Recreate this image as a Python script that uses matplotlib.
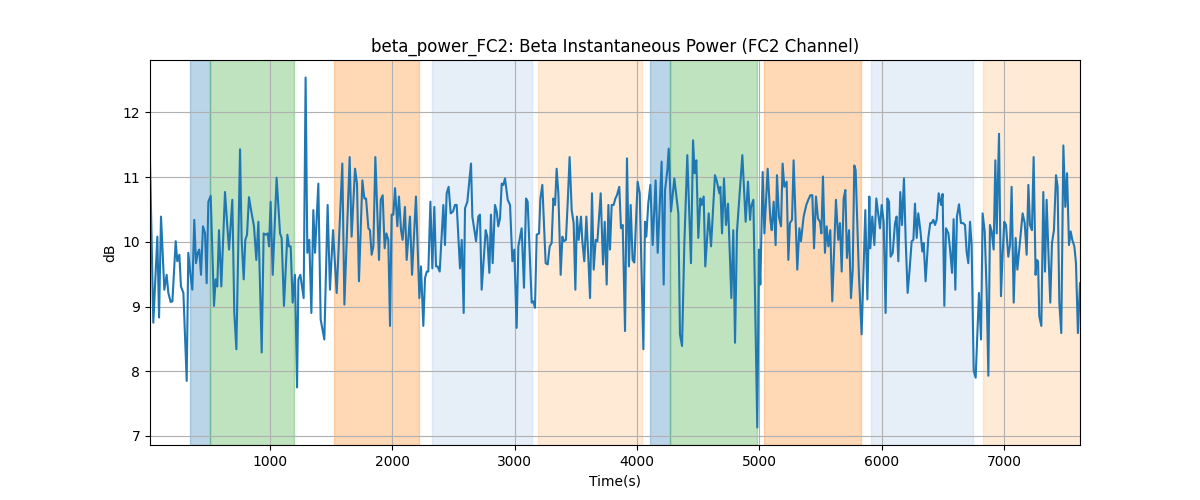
import numpy as np
import matplotlib
matplotlib.use("Agg")
import matplotlib.pyplot as plt


# time (s) and beta power (dB)
time_s = [
    19, 46, 79, 93, 109, 136, 155, 169, 188, 202, 229, 242, 259, 272, 292, 319, 332, 351, 365, 381,
    395, 409, 422, 436, 452, 469, 482, 496, 515, 542, 556, 569, 583, 602, 632, 651, 665, 692, 708, 725,
    755, 768, 785, 798, 812, 828, 845, 869, 888, 905, 932, 948, 965, 981, 992,
    1005, 1022, 1054, 1082, 1095, 1114, 1142, 1155, 1169, 1185, 1204, 1221, 1232, 1248, 1275, 1291, 1305, 1321, 1338, 1354,
    1368, 1395, 1414, 1444, 1471, 1490, 1515, 1545, 1591, 1608, 1651, 1667, 1695, 1711, 1727, 1755, 1771, 1785, 1804, 1817,
    1831, 1845, 1861, 1891, 1905, 1921, 1937, 1951, 1967,
    1981, 1994, 2008, 2022, 2041, 2054, 2071, 2084, 2103, 2117, 2144, 2161, 2193, 2221, 2234, 2253, 2267, 2281, 2294, 2311,
    2327, 2343, 2357, 2370, 2387, 2417, 2430, 2444, 2460, 2477, 2496, 2512, 2526, 2553, 2567, 2583, 2594, 2613, 2643, 2654,
    2684, 2703, 2716, 2730, 2763, 2776, 2793, 2806, 2820, 2839, 2853, 2866, 2880, 2894, 2907, 2921, 2943, 2962,
    2981, 2997, 3016, 3030, 3057, 3076, 3093, 3106, 3139, 3152, 3166, 3180, 3199, 3210, 3226, 3253, 3270, 3286, 3302, 3316,
    3330, 3343, 3357, 3376, 3390, 3403, 3419, 3433, 3449, 3466, 3482, 3496, 3509, 3523, 3542, 3553, 3569, 3586, 3602, 3616,
    3632, 3646, 3662, 3676, 3703, 3722, 3736, 3752, 3766, 3779, 3793, 3809, 3823, 3836, 3855, 3869, 3883, 3902, 3918, 3934,
    3948, 3964, 3978, 4005, 4022, 4052, 4065, 4076, 4092, 4109, 4128, 4152, 4169, 4201, 4218, 4229, 4248, 4259, 4278, 4305,
    4338, 4351, 4368, 4387, 4411, 4441, 4458, 4471, 4485, 4501, 4518, 4528, 4545, 4558, 4586, 4605, 4637, 4651, 4673, 4681,
    4695, 4711, 4727, 4744, 4771, 4787, 4801, 4817, 4861, 4888, 4907, 4924,
    4932, 4951, 4983, 4997, 5008, 5027, 5041, 5068, 5090, 5101, 5117, 5133, 5144, 5160, 5177, 5190, 5204, 5223, 5237, 5250,
    5267, 5280, 5310, 5327, 5340, 5362, 5384, 5400, 5417, 5433, 5447, 5463, 5479, 5496, 5507, 5520, 5536, 5550, 5564, 5580,
    5596, 5626, 5645, 5659, 5673, 5689, 5703, 5716, 5733, 5749, 5763, 5776, 5787, 5814, 5836, 5866, 5883, 5899,
    5907, 5923, 5940, 5956, 5972, 5986, 6000, 6016, 6032, 6046, 6060, 6073, 6090, 6109, 6122, 6136, 6152, 6166, 6182, 6196,
    6212, 6229, 6245, 6259, 6272, 6286, 6299, 6316, 6332, 6343, 6359, 6381, 6397, 6408, 6422, 6436, 6449, 6466, 6485, 6498,
    6512, 6526, 6545, 6558, 6575, 6588, 6602, 6615, 6632, 6648, 6665, 6681, 6694, 6708, 6722, 6735, 6752, 6768, 6782, 6795,
    6812, 6825, 6842, 6858, 6872, 6885,
    6899, 6915, 6929, 6940, 6959, 6975, 6989, 7002, 7016, 7035, 7049, 7062, 7079, 7095, 7109, 7122, 7136, 7152, 7169, 7185,
    7199, 7212, 7228, 7242, 7258, 7267, 7278, 7288, 7305, 7321, 7335, 7348, 7365, 7378, 7392, 7408, 7425, 7438, 7452, 7468,
    7485, 7501, 7515, 7531, 7545, 7558, 7575, 7588, 7604, 7621,
]
power_db = [
    11.26, 8.75, 10.08, 8.83, 10.39, 9.26, 9.49, 9.21, 9.07, 9.08, 10.01, 9.70, 9.80, 9.31, 9.21, 7.85, 9.83, 9.47, 9.26, 10.34,
    9.67, 9.83, 9.88, 9.49, 10.24, 10.13, 9.36, 10.62, 10.71, 9.01, 9.42, 9.31, 10.18, 9.31, 10.77, 10.24, 9.88, 10.65, 8.90, 8.34,
    11.43, 10.03, 9.42, 10.03, 10.11, 10.69, 10.49, 10.24, 9.72, 10.31, 8.29, 10.13, 10.11, 10.13, 9.93,
    10.62, 9.49, 10.99, 10.13, 10.06, 9.01, 10.11, 9.93, 9.93, 9.06, 9.49, 7.75, 9.42, 9.49, 9.13, 12.54, 9.83, 10.03, 8.90, 10.49,
    9.83, 10.90, 8.80, 8.49, 10.57, 9.26, 10.18, 9.21, 11.21, 9.03, 11.31, 10.08, 11.13, 10.90, 9.39, 10.95, 10.67, 10.67, 10.21, 10.18,
    9.80, 9.93, 11.31, 9.72, 10.65, 10.72, 9.90, 10.13, 10.03,
    8.70, 10.42, 10.42, 10.83, 10.24, 10.70, 10.18, 10.03, 10.54, 9.72, 10.39, 9.49, 10.70, 9.13, 9.62, 8.70, 9.44, 9.54, 9.54, 10.62,
    9.59, 10.54, 9.62, 9.62, 9.54, 10.57, 9.95, 10.75, 10.85, 10.44, 10.47, 10.57, 10.57, 9.59, 10.03, 8.90, 10.52, 10.62, 11.21, 10.39,
    10.01, 10.39, 10.42, 9.26, 10.18, 10.08, 9.52, 10.42, 9.67, 10.57, 10.47, 10.24, 10.36, 10.90, 10.88, 10.98, 10.65, 10.57,
    9.70, 9.88, 8.67, 9.93, 10.21, 9.29, 10.67, 10.62, 9.06, 9.08, 8.98, 10.11, 10.13, 10.67, 10.88, 9.67, 9.65, 9.93, 9.98, 10.67,
    10.57, 11.13, 10.75, 9.49, 10.08, 10.01, 10.03, 10.59, 11.31, 10.49, 10.29, 9.26, 10.39, 10.03, 10.39, 10.01, 9.70, 10.39, 9.75, 9.13,
    10.75, 9.57, 10.03, 10.01, 10.75, 9.65, 10.31, 9.34, 10.57, 9.88, 10.57, 10.57, 10.67, 10.72, 10.85, 10.21, 10.26, 8.62, 11.29, 9.62,
    10.57, 9.72, 9.68, 10.93, 10.75, 8.34, 10.31, 10.08, 10.59, 10.88, 9.95, 10.95, 9.83, 11.24, 9.34, 10.80, 11.11, 11.44, 10.47, 10.98,
    10.44, 8.57, 8.39, 9.98, 11.34, 9.67, 11.57, 11.06, 11.26, 10.06, 10.67, 10.57, 10.70, 9.62, 10.44, 9.93, 11.03, 10.95, 10.75, 10.85,
    10.13, 10.98, 10.26, 10.59, 9.13, 10.18, 8.44, 10.16, 11.34, 10.31, 10.93, 10.34,
    10.54, 10.65, 7.13, 9.88, 9.34, 11.08, 10.13, 11.13, 10.34, 10.18, 10.62, 9.95, 11.03, 10.39, 10.24, 11.21, 10.85, 10.93, 9.72, 10.29,
    10.34, 11.26, 9.57, 10.21, 10.01, 10.39, 10.57, 10.65, 10.72, 10.72, 9.90, 10.70, 10.36, 10.31, 10.13, 11.01, 9.83, 10.24, 9.93, 10.18,
    9.08, 10.65, 10.03, 10.29, 9.54, 10.67, 10.80, 9.75, 10.18, 9.13, 9.57, 11.18, 11.11, 9.47, 8.57, 10.49, 9.11, 10.70,
    9.90, 10.39, 9.95, 10.67, 10.42, 10.21, 10.57, 10.31, 8.90, 10.67, 10.62, 9.77, 9.83, 10.29, 10.39, 9.70, 10.77, 10.26, 10.98, 10.03,
    9.21, 9.59, 10.01, 10.03, 10.59, 10.06, 10.44, 10.18, 9.85, 9.98, 9.39, 10.06, 10.29, 10.29, 10.34, 10.26, 10.34, 10.75, 10.57, 10.74,
    9.01, 10.21, 10.13, 9.90, 9.52, 10.35, 9.26, 10.39, 10.58, 10.29, 10.29, 10.26, 9.85, 9.67, 10.31, 9.95, 8.01, 7.90, 8.59, 9.21,
    8.49, 10.44, 10.16, 9.24, 7.93, 10.26,
    10.16, 9.88, 11.26, 10.13, 11.67, 9.16, 9.83, 10.31, 10.26, 9.77, 9.95, 10.85, 9.06, 10.06, 9.57, 9.83, 10.11, 10.44, 10.29, 9.80,
    10.88, 10.26, 10.18, 11.31, 9.49, 9.72, 9.70, 8.85, 8.70, 10.77, 9.54, 10.65, 9.72, 9.06, 9.98, 10.18, 11.03, 10.85, 9.06, 8.59,
    11.49, 10.54, 11.06, 9.95, 10.16, 10.03, 9.93, 9.67, 8.59, 9.36,
]

# shaded segments: start, end, colour
seg_start = [346, 509, 1523, 2324, 3190, 4106, 4272, 5038, 5912, 6825]
seg_end = [509, 1196, 2215, 3139, 4043, 4272, 4978, 5828, 6743, 7621]
seg_color = ["#1f77b4", "#2ca02c", "#ff7f0e", "#aec7e8", "#ffbb78",
             "#1f77b4", "#2ca02c", "#ff7f0e", "#aec7e8", "#ffbb78"]

fig, ax = plt.subplots(figsize=(12, 5), dpi=100)
for s, e, c in zip(seg_start, seg_end, seg_color):
    ax.axvspan(s, e, color=c, alpha=0.3)
ax.plot(time_s, power_db, color="tab:blue")
ax.set_xlim(time_s[0], time_s[-1])
ax.set_title("beta_power_FC2: Beta Instantaneous Power (FC2 Channel)")
ax.set_xlabel("Time(s)")
ax.set_ylabel("dB")
ax.grid(True)
fig.savefig("out.png")
